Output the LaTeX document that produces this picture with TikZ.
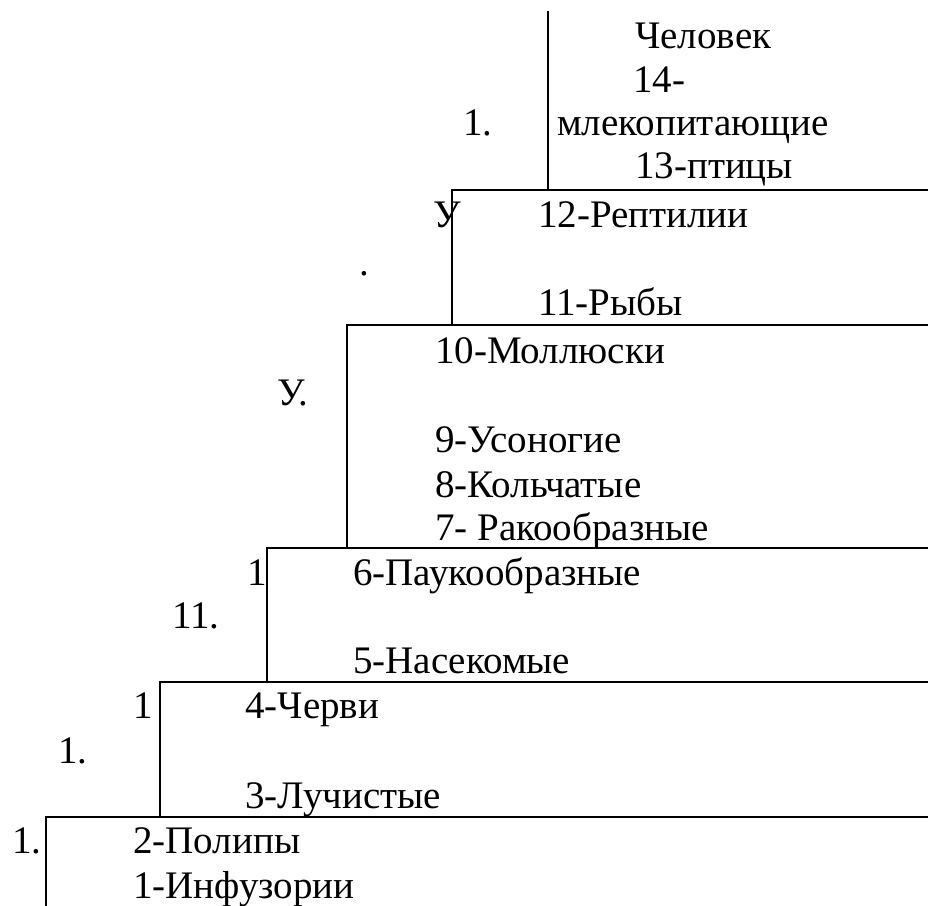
\documentclass[tikz,border=0pt]{standalone}
\usepackage{fontspec}
\setmainfont{Liberation Serif}
\begin{document}
\begin{tikzpicture}[x=1pt,y=-1pt,
  lbl/.style={anchor=base west,inner sep=0pt,font=\fontsize{39}{46}\selectfont},
  stair/.style={line width=1.5pt,line cap=rect}]
\useasboundingbox (0,0) rectangle (928,905);
% staircase
\draw[stair] (548,12) -- (548,190);
\draw[stair] (928,190) -- (452,190) -- (452,325);
\draw[stair] (928,325) -- (347,325) -- (347,548);
\draw[stair] (928,548) -- (267,548) -- (267,682);
\draw[stair] (928,682) -- (160,682) -- (160,817);
\draw[stair] (928,817) -- (46,817) -- (46,905);
% top step
\node[lbl] (chel) at (635,48) {Человек};
\node[lbl] (n14) at (633,92) {14-};
\node[lbl] (mlek) at (557,135) {млекопитающие};
\node[lbl] (n13) at (635,178) {13-птицы};
\node[lbl] (m1) at (463,135) {1.};
% step
\node[lbl] (u1) at (433,227) {У};
\node[lbl] (n12) at (538,227) {12-Рептилии};
\node[lbl] (dot) at (359,275) {.};
\node[lbl] (n11) at (538,315) {11-Рыбы};
% step
\node[lbl] (n10) at (435,363) {10-Моллюски};
\node[lbl] (u2) at (277,405) {У.};
\node[lbl] (n9) at (435,452) {9-Усоногие};
\node[lbl] (n8) at (435,497) {8-Кольчатые};
\node[lbl] (n7) at (435,540) {7- Ракообразные};
% step
\node[lbl] (one1) at (247,585) {1};
\node[lbl] (n6) at (353,585) {6-Паукообразные};
\node[lbl] (m11) at (172,628) {11.};
\node[lbl] (n5) at (353,673) {5-Насекомые};
% step
\node[lbl] (one2) at (133,718) {1};
\node[lbl] (n4) at (245,718) {4-Черви};
\node[lbl] (m2) at (58,763) {1.};
\node[lbl] (n3) at (245,808) {3-Лучистые};
% bottom
\node[lbl] (m3) at (12,853) {1.};
\node[lbl] (n2) at (133,853) {2-Полипы};
\node[lbl] (n1) at (133,898) {1-Инфузории};
\end{tikzpicture}
\end{document}
